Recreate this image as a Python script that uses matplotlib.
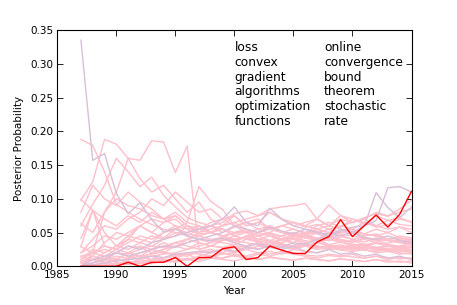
import matplotlib
matplotlib.use("Agg")
import matplotlib.pyplot as plt
import numpy as np

years = list(range(1987, 2016))

# highlighted topic
red_series = [0.000, 0.000, 0.000, 0.000, 0.006, 0.000, 0.006, 0.006, 0.013, 0.000,
              0.013, 0.013, 0.026, 0.029, 0.010, 0.013, 0.030, 0.024, 0.019, 0.019,
              0.036, 0.044, 0.069, 0.044, 0.060, 0.076, 0.058, 0.077, 0.111]

# background topics (pink)
p01 = [0.188,0.179,0.140,0.092,0.080,0.070,0.062,0.055,0.050,0.048,0.045,0.040,0.042,0.038,0.035,0.032,0.036,0.030,0.028,0.030,0.025,0.027,0.024,0.022,0.025,0.020,0.022,0.018,0.020]
p02 = [0.098,0.125,0.188,0.181,0.160,0.157,0.186,0.184,0.139,0.178,0.025,0.030,0.028,0.022,0.025,0.020,0.018,0.022,0.020,0.017,0.015,0.018,0.016,0.014,0.012,0.015,0.013,0.011,0.012]
p03 = [0.060,0.092,0.120,0.160,0.140,0.118,0.132,0.105,0.088,0.072,0.065,0.060,0.055,0.050,0.052,0.045,0.048,0.040,0.042,0.038,0.035,0.040,0.036,0.033,0.030,0.034,0.030,0.028,0.030]
p04 = [0.000,0.020,0.080,0.110,0.160,0.130,0.110,0.120,0.100,0.080,0.095,0.070,0.060,0.065,0.055,0.050,0.060,0.052,0.045,0.050,0.048,0.042,0.046,0.040,0.044,0.038,0.040,0.036,0.034]
p05 = [0.099,0.083,0.070,0.060,0.075,0.065,0.080,0.070,0.060,0.055,0.048,0.050,0.045,0.040,0.042,0.038,0.035,0.040,0.033,0.030,0.035,0.032,0.028,0.030,0.026,0.028,0.024,0.026,0.022]
p06 = [0.041,0.083,0.050,0.030,0.045,0.040,0.035,0.050,0.060,0.045,0.040,0.038,0.035,0.032,0.040,0.036,0.030,0.034,0.028,0.032,0.030,0.026,0.030,0.025,0.028,0.024,0.027,0.022,0.025]
p07 = [0.029,0.083,0.030,0.025,0.040,0.060,0.050,0.042,0.055,0.050,0.060,0.050,0.045,0.048,0.052,0.046,0.050,0.044,0.040,0.046,0.042,0.038,0.044,0.040,0.036,0.042,0.038,0.035,0.040]
p08 = [0.010,0.020,0.030,0.025,0.035,0.045,0.040,0.050,0.055,0.065,0.118,0.096,0.084,0.060,0.050,0.055,0.048,0.045,0.050,0.042,0.040,0.044,0.038,0.036,0.040,0.035,0.032,0.030,0.034]
p09 = [0.000,0.005,0.010,0.015,0.012,0.020,0.025,0.030,0.035,0.040,0.045,0.050,0.060,0.065,0.070,0.075,0.085,0.088,0.090,0.093,0.070,0.060,0.055,0.050,0.045,0.048,0.040,0.042,0.038]
p10 = [0.000,0.002,0.005,0.008,0.010,0.012,0.015,0.018,0.020,0.025,0.030,0.035,0.040,0.038,0.045,0.050,0.055,0.060,0.065,0.060,0.070,0.091,0.075,0.070,0.065,0.060,0.055,0.058,0.050]
p11 = [0.000,0.000,0.002,0.005,0.005,0.008,0.010,0.012,0.015,0.018,0.020,0.022,0.025,0.028,0.030,0.035,0.032,0.040,0.045,0.042,0.050,0.055,0.060,0.065,0.070,0.080,0.075,0.080,0.085]
p12 = [0.020,0.030,0.045,0.040,0.050,0.060,0.070,0.065,0.075,0.060,0.055,0.065,0.070,0.060,0.065,0.070,0.055,0.060,0.065,0.058,0.062,0.055,0.050,0.052,0.048,0.045,0.050,0.042,0.040]
p13 = [0.014,0.010,0.020,0.030,0.025,0.035,0.030,0.040,0.045,0.060,0.050,0.055,0.060,0.075,0.060,0.065,0.080,0.070,0.060,0.065,0.070,0.060,0.075,0.065,0.070,0.060,0.068,0.062,0.060]
p14 = [0.007,0.015,0.010,0.020,0.015,0.010,0.020,0.025,0.030,0.035,0.040,0.035,0.045,0.050,0.055,0.045,0.050,0.060,0.055,0.050,0.060,0.065,0.058,0.070,0.062,0.075,0.068,0.072,0.065]
p15 = [0.000,0.010,0.005,0.010,0.020,0.015,0.025,0.020,0.030,0.025,0.035,0.030,0.040,0.035,0.045,0.040,0.038,0.045,0.050,0.045,0.055,0.050,0.060,0.055,0.065,0.058,0.062,0.070,0.066]
p16 = [0.063,0.050,0.080,0.100,0.090,0.085,0.075,0.070,0.080,0.065,0.060,0.050,0.055,0.045,0.040,0.045,0.038,0.035,0.040,0.032,0.030,0.028,0.032,0.026,0.025,0.028,0.022,0.024,0.020]
p17 = [0.000,0.005,0.010,0.008,0.012,0.015,0.010,0.020,0.018,0.015,0.022,0.025,0.020,0.028,0.025,0.030,0.028,0.032,0.026,0.030,0.035,0.030,0.028,0.032,0.030,0.026,0.030,0.028,0.025]
p18 = [0.005,0.000,0.008,0.012,0.005,0.010,0.015,0.008,0.012,0.018,0.010,0.015,0.020,0.015,0.012,0.018,0.015,0.020,0.018,0.015,0.012,0.016,0.014,0.018,0.012,0.015,0.010,0.013,0.012]
p19 = [0.000,0.003,0.000,0.005,0.003,0.006,0.004,0.008,0.006,0.010,0.007,0.012,0.010,0.008,0.012,0.010,0.014,0.011,0.009,0.012,0.010,0.008,0.011,0.009,0.007,0.010,0.008,0.006,0.008]
p20 = [0.020,0.040,0.060,0.055,0.070,0.080,0.100,0.090,0.110,0.095,0.080,0.085,0.070,0.075,0.060,0.065,0.055,0.050,0.045,0.048,0.040,0.042,0.036,0.038,0.032,0.035,0.030,0.028,0.030]
p21 = [0.000,0.015,0.035,0.050,0.045,0.060,0.050,0.065,0.070,0.055,0.060,0.050,0.055,0.045,0.050,0.040,0.045,0.038,0.042,0.035,0.040,0.032,0.036,0.030,0.033,0.028,0.030,0.026,0.028]
p22 = [0.000,0.000,0.000,0.002,0.003,0.004,0.005,0.006,0.008,0.010,0.012,0.015,0.018,0.020,0.025,0.030,0.035,0.040,0.045,0.050,0.055,0.060,0.070,0.065,0.072,0.078,0.074,0.085,0.098]
p23 = [0.010,0.025,0.020,0.030,0.040,0.035,0.045,0.040,0.050,0.045,0.055,0.060,0.050,0.058,0.065,0.055,0.060,0.050,0.055,0.048,0.052,0.045,0.050,0.055,0.048,0.045,0.040,0.045,0.042]
p24 = [0.000,0.005,0.015,0.010,0.020,0.030,0.025,0.035,0.028,0.040,0.035,0.030,0.038,0.045,0.040,0.050,0.045,0.040,0.048,0.042,0.038,0.045,0.040,0.036,0.042,0.038,0.034,0.040,0.036]
p25 = [0.005,0.010,0.012,0.020,0.018,0.025,0.030,0.028,0.035,0.040,0.050,0.060,0.065,0.078,0.082,0.075,0.080,0.070,0.065,0.060,0.055,0.050,0.048,0.045,0.042,0.040,0.038,0.035,0.032]
p26 = [0.015,0.020,0.025,0.020,0.030,0.028,0.020,0.025,0.035,0.030,0.025,0.030,0.028,0.032,0.030,0.026,0.030,0.028,0.025,0.030,0.027,0.030,0.025,0.028,0.030,0.026,0.024,0.028,0.022]
p27 = [0.000,0.000,0.005,0.003,0.008,0.005,0.010,0.008,0.012,0.010,0.015,0.020,0.025,0.020,0.030,0.035,0.030,0.040,0.035,0.045,0.040,0.050,0.045,0.052,0.048,0.055,0.050,0.058,0.055]
p28 = [0.029,0.020,0.015,0.025,0.020,0.015,0.018,0.022,0.015,0.020,0.018,0.015,0.012,0.016,0.014,0.010,0.013,0.011,0.009,0.012,0.010,0.008,0.011,0.009,0.007,0.010,0.006,0.008,0.005]
p29 = [0.000,0.002,0.004,0.003,0.006,0.004,0.008,0.010,0.007,0.012,0.010,0.015,0.012,0.018,0.015,0.020,0.022,0.018,0.025,0.022,0.020,0.025,0.028,0.024,0.030,0.026,0.032,0.028,0.035]
p30 = [0.080,0.120,0.100,0.090,0.110,0.095,0.085,0.070,0.075,0.060,0.055,0.050,0.045,0.040,0.042,0.036,0.038,0.032,0.030,0.034,0.028,0.030,0.025,0.027,0.024,0.022,0.025,0.020,0.018]

# background topics (thistle)
t1 = [0.335,0.157,0.167,0.108,0.078,0.094,0.069,0.051,0.056,0.045,0.040,0.038,0.042,0.035,0.030,0.033,0.028,0.025,0.030,0.022,0.020,0.025,0.018,0.020,0.015,0.018,0.012,0.015,0.010]
t2 = [0.000,0.005,0.010,0.020,0.015,0.020,0.025,0.030,0.028,0.035,0.040,0.045,0.050,0.060,0.055,0.050,0.058,0.052,0.048,0.055,0.050,0.045,0.052,0.058,0.060,0.109,0.087,0.072,0.088]
t3 = [0.000,0.002,0.005,0.008,0.010,0.012,0.015,0.013,0.018,0.020,0.022,0.020,0.025,0.022,0.028,0.025,0.030,0.028,0.035,0.032,0.040,0.045,0.055,0.050,0.060,0.068,0.1165,0.118,0.110]
t4 = [0.000,0.010,0.015,0.020,0.030,0.025,0.035,0.040,0.045,0.050,0.055,0.060,0.070,0.088,0.065,0.060,0.086,0.070,0.060,0.055,0.050,0.048,0.045,0.050,0.042,0.040,0.045,0.038,0.035]

pink_series = [p01,p02,p03,p04,p05,p06,p07,p08,p09,p10,p11,p12,p13,p14,p15,
               p16,p17,p18,p19,p20,p21,p22,p23,p24,p25,p26,p27,p28,p29,p30]
thistle_series = [t1, t2, t3, t4]

words_left = ["loss", "convex", "gradient", "algorithms", "optimization", "functions"]
words_right = ["online", "convergence", "bound", "theorem", "stochastic", "rate"]

x_ticks = [1985, 1990, 1995, 2000, 2005, 2010, 2015]
y_ticks = [0.00, 0.05, 0.10, 0.15, 0.20, 0.25, 0.30, 0.35]

fig = plt.figure(figsize=(4.57, 3.05), dpi=100)
ax = fig.add_axes([57.3/457, 1-266.3/305, (411.5-57.3)/457, (266.3-30)/305])

for s in pink_series:
    ax.plot(years, s, color="pink", lw=1.0)
for s in thistle_series:
    ax.plot(years, s, color="thistle", lw=1.0)
ax.plot(years, red_series, color="red", lw=1.0)

ax.set_xlim(1985, 2015)
ax.set_ylim(0, 0.35)
ax.set_xticks(x_ticks)
ax.set_yticks(y_ticks)
ax.set_yticklabels([f"{v:.2f}" for v in y_ticks])
ax.tick_params(direction="in", top=True, right=True, length=4, width=0.6,
               labelsize=7.5, pad=3)
for sp in ax.spines.values():
    sp.set_linewidth(0.8)
    sp.set_color("black")

ax.set_xlabel("Year", fontsize=7.5, labelpad=4)
ax.set_ylabel("Posterior Probability", fontsize=7.5, labelpad=4)

ax.text(0.5, 0.953, "\n".join(words_left), transform=ax.transAxes,
        ha="left", va="top", fontsize=8.8, linespacing=1.17)
ax.text(0.753, 0.953, "\n".join(words_right), transform=ax.transAxes,
        ha="left", va="top", fontsize=8.8, linespacing=1.17)

fig.savefig("out.png", dpi=100)
